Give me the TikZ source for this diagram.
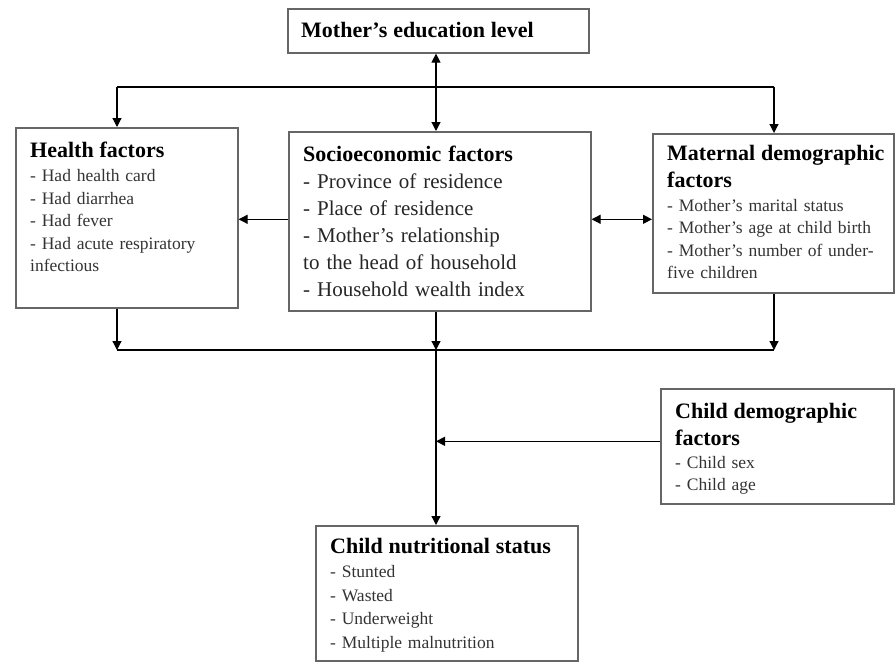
\documentclass[tikz,border=0pt]{standalone}
\usepackage{fontspec}
\setmainfont{Liberation Serif}
\usetikzlibrary{arrows.meta,positioning,calc}
\newcommand\ttlf{\fontsize{22}{27}\selectfont\bfseries\color{black}}
\newcommand\itmf{\fontsize{17.5}{22.5}\selectfont}
\newcommand\bigf{\fontsize{21}{27}\selectfont}
\tikzset{bx/.style={draw=black!60,line width=1.6pt,anchor=north west,inner sep=0pt},
 txt/.style={anchor=base west,inner sep=0pt,align=left,text width=#1,font=\itmf,text=black!80},
 arr/.style={-{Triangle[length=9pt,width=9pt]},line width=1.2pt},
 dbl/.style={{Triangle[length=9pt,width=9pt]}-{Triangle[length=9pt,width=9pt]},line width=1.2pt},
 wire/.style={line width=1.2pt}}
\begin{document}
\begin{tikzpicture}[x=1pt,y=-1pt]
\useasboundingbox (0,0) rectangle (896,662);
% boxes
\node[bx,minimum width=301pt,minimum height=44pt] (edu) at (287,8) {};
\node[bx,minimum width=222pt,minimum height=180pt] (health) at (15,127) {};
\node[bx,minimum width=302pt,minimum height=179pt] (socio) at (288,131) {};
\node[bx,minimum width=241pt,minimum height=159pt] (mat) at (652,133) {};
\node[bx,minimum width=233pt,minimum height=115pt] (cdem) at (660,388) {};
\node[bx,minimum width=262pt,minimum height=135pt] (nutri) at (315,525) {};
% texts
\node[txt=280pt] (edut) at (301,37) {{\ttlf Mother's education level}};
\node[txt=200pt] (healtht) at (30,157) {{\ttlf Health factors}\\[2pt]
 - Had health card\\ - Had diarrhea\\ - Had fever\\ - Had acute respiratory\\ infectious};
\node[txt=280pt,font=\bigf,text=black!85] (sociot) at (303,161) {{\ttlf Socioeconomic factors}\\
 - Province of residence\\ - Place of residence\\ - Mother's relationship\\ to the head of household\\ - Household wealth index};
\node[txt=226pt] (matt) at (667,160) {{\ttlf Maternal demographic\\[5pt] factors}\\[1pt]
 - Mother's marital status\\ - Mother's age at child birth\\ - Mother's number of under-\\ five children};
\node[txt=215pt] (cdemt) at (675,418) {{\ttlf Child demographic\\[5pt] factors}\\
 - Child sex\\ - Child age};
\node[txt=240pt] (nutrit) at (330,553) {{\ttlf Child nutritional status}\\[2pt]
 - Stunted\\[1pt] - Wasted\\[1pt] - Underweight\\[1pt] - Multiple malnutrition};
% connectors
\coordinate (tl) at (117,87);\coordinate (tr) at (774,87);
\coordinate (bl) at (117,350);\coordinate (br) at (774,350);
\coordinate (jn) at (436,350);
\draw[dbl] (edu.south -| jn) -- (socio.north -| jn);
\draw[wire] (tl) -- (tr);
\draw[arr] (tl) -- (tl |- health.north);
\draw[arr] (tr) -- (tr |- mat.north);
\draw[arr] ([yshift=2pt]socio.west) -- ([yshift=2pt]socio.west -| health.east);
\draw[dbl] ([yshift=2pt]socio.east) -- ([yshift=2pt]socio.east -| mat.west);
\draw[wire] (bl) -- (br);
\draw[arr] (health.south -| bl) -- (bl);
\draw[arr] (mat.south -| br) -- (br);
\draw[arr] (socio.south -| jn) -- (jn);
\draw[arr] (jn) -- (jn |- nutri.north);
\draw[arr] ([yshift=5pt]cdem.west) -- ([yshift=5pt]cdem.west -| jn);
\end{tikzpicture}
\end{document}
